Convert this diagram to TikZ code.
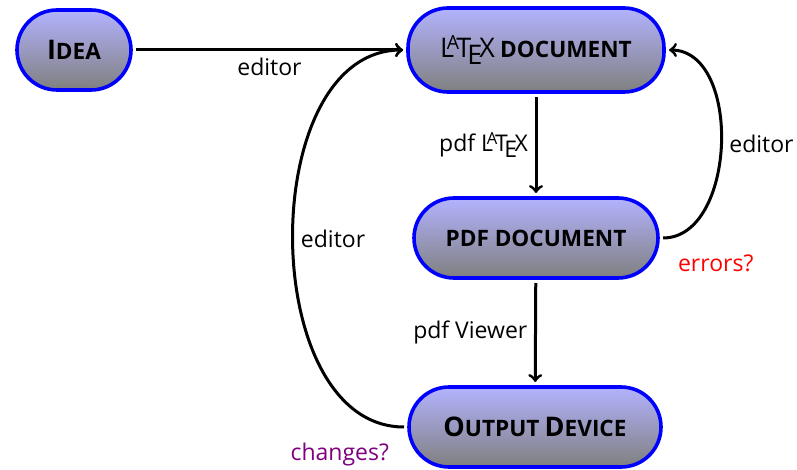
\documentclass[tikz,border=0pt]{standalone}
\usepackage{fontspec}
\setmainfont{Open Sans}
\usetikzlibrary{positioning}

\definecolor{changecol}{RGB}{128,0,128}
\newcommand{\capsc}[2]{{\fontsize{13.5}{15}\selectfont #1}{\fontsize{11.3}{13}\selectfont #2}}
% LaTeX logo spaced for a sans font
\newcommand{\latexlogo}{L\kern-.27em\raisebox{.3em}{\scalebox{.72}{A}}\kern-.1em
  T\kern-.15em\lower.5ex\hbox{E}\kern-.11em X}

\tikzset{
  stage/.style={draw=blue, line width=1.8pt, rounded corners=20pt,
    minimum height=40pt, top color=blue!30, bottom color=black!50,
    font=\bfseries, outer sep=2.5pt},
  flow/.style={->, line width=1.5pt},
}

\begin{document}
\begin{tikzpicture}[x=0.5pt, y=-0.5pt, font=\fontsize{11.5}{13}\selectfont]
  \useasboundingbox (0,0) rectangle (797,470);

  \node[stage, minimum width=57pt] (idea) at (74,50) {\capsc{I}{DEA}};
  \node[stage, minimum width=128pt, minimum height=42pt] (latex) at (536,50)
    {{\mdseries\fontsize{13.5}{15}\selectfont\latexlogo} \capsc{}{DOCUMENT}};
  \node[stage, minimum width=122pt] (pdf) at (536,238) {\capsc{}{PDF DOCUMENT}};
  \node[stage, minimum width=126pt] (out) at (535,427)
    {\capsc{O}{UTPUT} \capsc{D}{EVICE}};

  \draw[flow] (idea) -- node[below] {editor} (latex);
  \draw[flow] (latex) -- node[left] {pdf \latexlogo} (pdf);
  \draw[flow] (pdf) -- node[left] {pdf Viewer} (out);
  \draw[flow] (pdf.east) to[out=0, in=0] node[right] {editor} (latex.east);
  \draw[flow] (out.west) to[out=180, in=180] node[right] {editor} (latex.west);

  \node[red, anchor=west] (err) at ([xshift=4pt, yshift=-12.5pt]pdf.east) {errors?};
  \node[changecol, anchor=east] (chg) at ([xshift=-4pt, yshift=-14pt]out.west) {changes?};
\end{tikzpicture}
\end{document}
